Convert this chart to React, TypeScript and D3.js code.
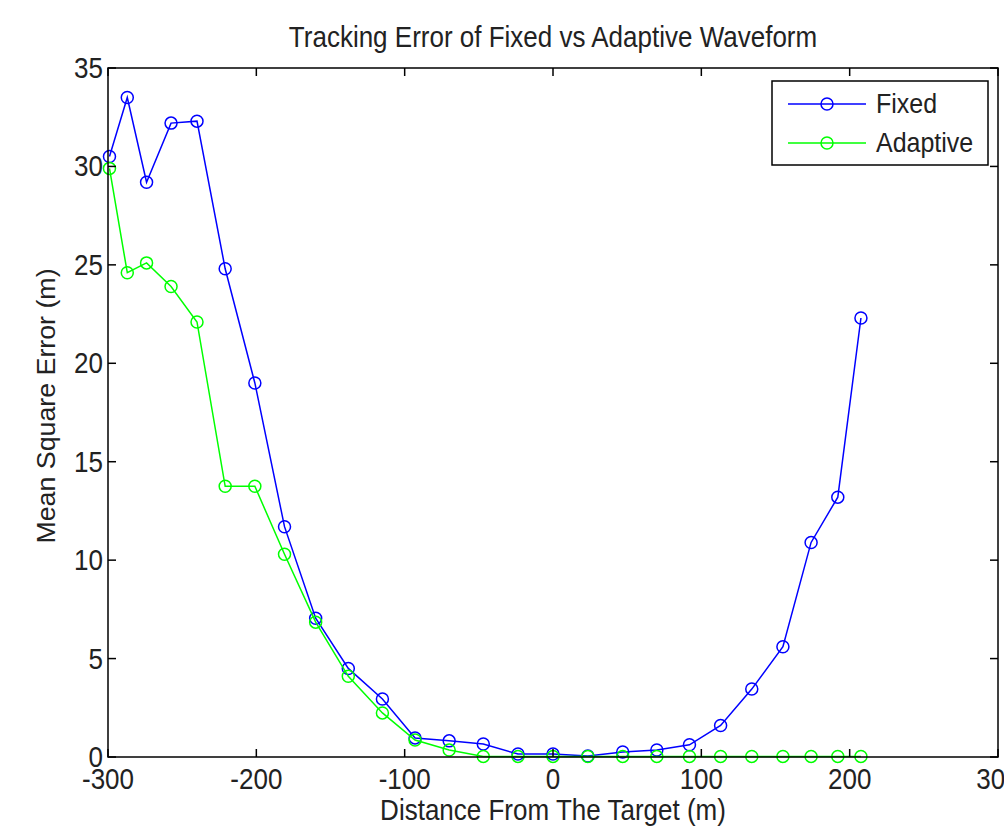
import React, { useRef, useEffect } from 'react';
import * as d3 from 'd3';

const distance = [-299, -287, -274, -257.5, -240, -221, -201, -181, -160, -138, -115, -93, -70, -47, -23.6, 0, 23.5, 47, 70, 92, 113, 134, 155, 174, 192, 207.6];
const fixedErr = [30.5, 33.5, 29.2, 32.2, 32.3, 24.8, 19.0, 11.7, 7.05, 4.5, 2.95, 0.97, 0.82, 0.66, 0.15, 0.15, 0.05, 0.25, 0.36, 0.62, 1.6, 3.45, 5.6, 10.9, 13.2, 22.3];
const adaptiveErr = [29.9, 24.6, 25.1, 23.9, 22.1, 13.75, 13.75, 10.3, 6.85, 4.1, 2.24, 0.86, 0.36, 0.03, 0.03, 0.03, 0.03, 0.03, 0.03, 0.03, 0.03, 0.03, 0.03, 0.03, 0.03, 0.03];
const xTicks = [-300, -200, -100, 0, 100, 200, 300];
const yTicks = [0, 5, 10, 15, 20, 25, 30, 35];
const seriesNames = ['Fixed', 'Adaptive'];
const seriesColors = ['#0000ff', '#00ff00'];

function App() {
  const svgRef = useRef(null);

  useEffect(() => {
    document.body.style.margin = '0';
    const svg = d3.select(svgRef.current);
    svg.selectAll('*').remove();

    const width = 1004;
    const height = 826;
    const margin = { top: 68, right: 6, bottom: 69, left: 108 };
    const font = 'Arial, "Liberation Sans", sans-serif';
    const stretch = 1.1; // the source text looks taller than it is wide

    const x = d3.scaleLinear()
      .domain([-300, 300])
      .range([margin.left, width - margin.right]);

    const y = d3.scaleLinear()
      .domain([0, 35])
      .range([height - margin.bottom, margin.top]);

    svg.append('rect')
      .attr('width', width)
      .attr('height', height)
      .attr('fill', '#fff');

    // text helper, stretched vertically around its baseline
    const label = (parent, tx, ty, str, anchor = 'middle', rotate = 0, size = 26) => {
      const tr = rotate
        ? `translate(${tx},${ty}) rotate(${rotate}) scale(1.03,1)`
        : `translate(${tx},${ty}) scale(1,${stretch})`;
      return parent.append('text')
        .attr('transform', tr)
        .attr('text-anchor', anchor)
        .attr('font-family', font)
        .attr('font-size', size)
        .attr('fill', '#222')
        .text(str);
    };

    // lines
    const series = [fixedErr, adaptiveErr];
    series.forEach((vals, i) => {
      const pts = distance.map((d, j) => [d, vals[j]]);
      const line = d3.line().x(d => x(d[0])).y(d => y(d[1]));
      svg.append('path')
        .datum(pts)
        .attr('d', line)
        .attr('fill', 'none')
        .attr('stroke', seriesColors[i])
        .attr('stroke-width', 1.5);
      svg.append('g')
        .selectAll('circle')
        .data(pts)
        .join('circle')
        .attr('cx', d => x(d[0]))
        .attr('cy', d => y(d[1]))
        .attr('r', 6)
        .attr('fill', 'none')
        .attr('stroke', seriesColors[i])
        .attr('stroke-width', 1.5);
    });

    // box + ticks (matlab style, inward)
    const x0 = x(-300), x1 = x(300), y0 = y(0), y1 = y(35);
    const tickLen = 8;
    const frame = svg.append('g').attr('stroke', '#000').attr('stroke-width', 1.5);
    frame.append('rect')
      .attr('x', x0).attr('y', y1)
      .attr('width', x1 - x0).attr('height', y0 - y1)
      .attr('fill', 'none');
    xTicks.forEach(t => {
      frame.append('line').attr('x1', x(t)).attr('x2', x(t)).attr('y1', y0).attr('y2', y0 - tickLen);
      frame.append('line').attr('x1', x(t)).attr('x2', x(t)).attr('y1', y1).attr('y2', y1 + tickLen);
    });
    yTicks.forEach(t => {
      frame.append('line').attr('x1', x0).attr('x2', x0 + tickLen).attr('y1', y(t)).attr('y2', y(t));
      frame.append('line').attr('x1', x1).attr('x2', x1 - tickLen).attr('y1', y(t)).attr('y2', y(t));
    });

    const xt = svg.append('g');
    xTicks.forEach(t => label(xt, x(t), y0 + 32, t));

    const yt = svg.append('g');
    yTicks.forEach(t => label(yt, x0 - 5, y(t) + 10, t, 'end'));

    label(svg, x(0), 47, 'Tracking Error of Fixed vs Adaptive Waveform');
    label(svg, x(0), 820, 'Distance From The Target (m)');
    label(svg, 55, 406, 'Mean Square Error (m)', 'middle', -90);

    // legend
    const lg = svg.append('g').attr('transform', 'translate(772, 81)');
    lg.append('rect')
      .attr('width', 216)
      .attr('height', 84)
      .attr('fill', '#fff')
      .attr('stroke', '#000')
      .attr('stroke-width', 1.5);
    seriesNames.forEach((name, i) => {
      const ly = 23 + i * 39;
      lg.append('line')
        .attr('x1', 16).attr('x2', 94)
        .attr('y1', ly).attr('y2', ly)
        .attr('stroke', seriesColors[i])
        .attr('stroke-width', 1.5);
      lg.append('circle')
        .attr('cx', 55).attr('cy', ly).attr('r', 6)
        .attr('fill', 'none')
        .attr('stroke', seriesColors[i])
        .attr('stroke-width', 1.5);
      label(lg, 104, ly + 9, name, 'start', 0, 25);
    });
  }, []);

  return <svg ref={svgRef} width={1004} height={826} style={{ display: 'block' }}></svg>;
}

export default App;
